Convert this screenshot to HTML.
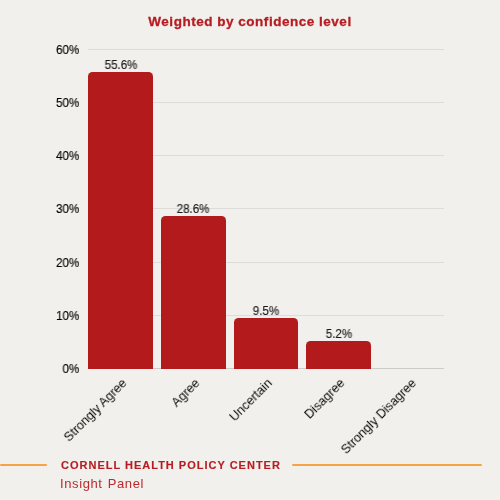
<!DOCTYPE html>
<html><head><meta charset="utf-8">
<style>
html,body{margin:0;padding:0;}
body{width:500px;height:500px;background:#f2f0ed;position:relative;overflow:hidden;font-family:"Liberation Sans",sans-serif;}
.abs{position:absolute;}
.title{left:0;width:500px;top:13.9px;text-align:center;font-weight:bold;font-size:13.5px;color:#b61d22;letter-spacing:0.52px;will-change:transform;-webkit-text-stroke:0.3px #b61d22;white-space:nowrap;}
.grid{left:88px;width:356px;height:1px;background:#dedcd8;}
.base{left:88px;width:356px;height:1px;background:#cdcbc7;top:368px;}
.yl{right:420.8px;font-size:12.7px;transform:scaleX(0.92);transform-origin:100% 50%;color:#000;will-change:transform;-webkit-text-stroke:0.15px #000;white-space:nowrap;line-height:14px;}
.bar{background:#b21a1c;border-radius:4.5px 4.5px 0 0;}
.vl{font-size:12px;transform:scaleX(0.96);color:#1a1a1a;will-change:transform;-webkit-text-stroke:0.15px #1a1a1a;text-align:center;width:80px;line-height:14px;white-space:nowrap;}
.xl{font-size:12.6px;color:#0a0a0a;will-change:transform;white-space:nowrap;line-height:14px;transform-origin:100% 50%;transform:rotate(-45deg);}
.line{height:2px;background:#f6a545;top:464.2px;border-radius:1px;}
.org{left:60.5px;top:459px;font-weight:bold;font-size:11px;color:#b61d22;letter-spacing:1px;will-change:transform;-webkit-text-stroke:0.15px #b61d22;white-space:nowrap;}
.sub{left:60px;top:476px;font-size:13px;color:#ba2a2f;letter-spacing:0.6px;word-spacing:1px;will-change:transform;white-space:nowrap;}
</style></head>
<body>
<div class="abs title">Weighted by confidence level</div>

<div class="abs grid" style="top:49px"></div>
<div class="abs grid" style="top:102px"></div>
<div class="abs grid" style="top:155px"></div>
<div class="abs grid" style="top:208px"></div>
<div class="abs grid" style="top:262px"></div>
<div class="abs grid" style="top:315px"></div>
<div class="abs base"></div>

<div class="abs yl" style="top:42.5px">60%</div>
<div class="abs yl" style="top:96px">50%</div>
<div class="abs yl" style="top:149px">40%</div>
<div class="abs yl" style="top:202px">30%</div>
<div class="abs yl" style="top:256px">20%</div>
<div class="abs yl" style="top:309px">10%</div>
<div class="abs yl" style="top:362px">0%</div>

<div class="abs bar" style="left:88.3px;width:64.7px;top:72.3px;height:296.7px"></div>
<div class="abs bar" style="left:161px;width:65px;top:216px;height:153px"></div>
<div class="abs bar" style="left:234px;width:64px;top:318px;height:51px"></div>
<div class="abs bar" style="left:306px;width:65px;top:341px;height:28px"></div>

<div class="abs vl" style="left:80.7px;top:58px">55.6%</div>
<div class="abs vl" style="left:153px;top:202px">28.6%</div>
<div class="abs vl" style="left:226px;top:304px">9.5%</div>
<div class="abs vl" style="left:298.5px;top:327px">5.2%</div>

<div class="abs xl" style="right:375.5px;top:373.6px">Strongly Agree</div>
<div class="abs xl" style="right:302.5px;top:373.6px">Agree</div>
<div class="abs xl" style="right:230.5px;top:373.6px">Uncertain</div>
<div class="abs xl" style="right:157.5px;top:373.6px">Disagree</div>
<div class="abs xl" style="right:85.5px;top:373.6px">Strongly Disagree</div>

<div class="abs line" style="left:0;width:47px"></div>
<div class="abs org">CORNELL HEALTH POLICY CENTER</div>
<div class="abs line" style="left:292px;width:190px"></div>
<div class="abs sub">Insight Panel</div>
</body></html>
